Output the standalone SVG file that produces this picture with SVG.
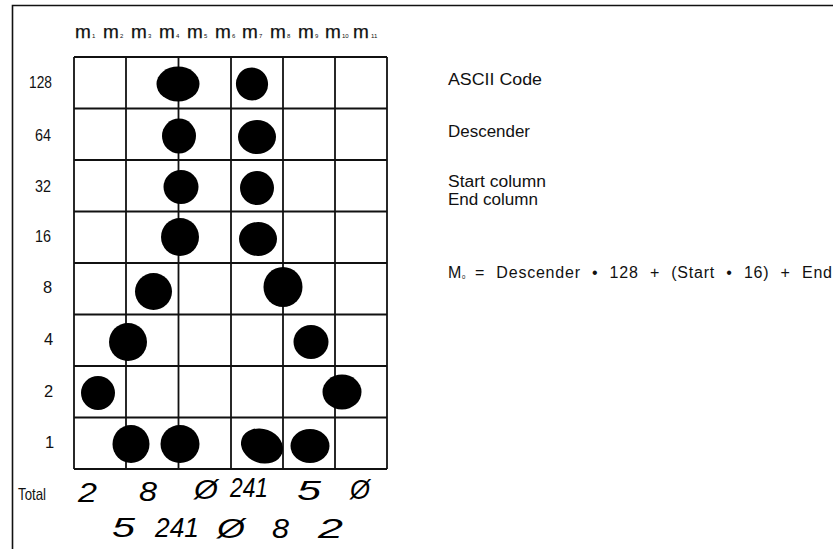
<svg xmlns="http://www.w3.org/2000/svg" width="833" height="549" viewBox="0 0 833 549">
<style>
.frame{fill:none;stroke:#111;stroke-width:1.6}
.grid line{stroke:#111;stroke-width:1.8}
.dot{fill:#000}
.hdr{font-family:"Liberation Sans",Arial,sans-serif;font-size:19px;fill:#111;stroke:#111;stroke-width:0.25}
.sub{font-family:"Liberation Sans",Arial,sans-serif;font-size:6px;fill:#111}
.lbl{font-family:"Liberation Sans",Arial,sans-serif;font-size:16.5px;fill:#111}
.leg{font-family:"Liberation Sans",Arial,sans-serif;font-size:16px;fill:#111}
.hand{font-family:"Liberation Sans",Arial,sans-serif;font-style:italic;font-size:28px;fill:#000}
</style>
<rect width="833" height="549" fill="#fff"/>
<g id="frame"><path class="frame" d="M833,5.5 H12.5 V549"/></g>
<g id="header">
<text class="hdr" x="75" y="38">m</text><text class="sub" x="92" y="38">1</text>
<text class="hdr" x="103" y="38">m</text><text class="sub" x="120" y="38">2</text>
<text class="hdr" x="131" y="38">m</text><text class="sub" x="148" y="38">3</text>
<text class="hdr" x="159" y="38">m</text><text class="sub" x="176" y="38">4</text>
<text class="hdr" x="187" y="38">m</text><text class="sub" x="204" y="38">5</text>
<text class="hdr" x="215" y="38">m</text><text class="sub" x="232" y="38">6</text>
<text class="hdr" x="242" y="38">m</text><text class="sub" x="259" y="38">7</text>
<text class="hdr" x="270" y="38">m</text><text class="sub" x="287" y="38">8</text>
<text class="hdr" x="298" y="38">m</text><text class="sub" x="315" y="38">9</text>
<text class="hdr" x="325" y="38">m</text><text class="sub" x="342" y="38">10</text>
<text class="hdr" x="353" y="38">m</text><text class="sub" x="371" y="38">11</text>
</g>
<g id="grid" class="grid">
<line x1="74" y1="57" x2="387" y2="57"/>
<line x1="74" y1="108.5" x2="387" y2="108.5"/>
<line x1="74" y1="160" x2="387" y2="160"/>
<line x1="74" y1="211.5" x2="387" y2="211.5"/>
<line x1="74" y1="263" x2="387" y2="263"/>
<line x1="74" y1="314.5" x2="387" y2="314.5"/>
<line x1="74" y1="366" x2="387" y2="366"/>
<line x1="74" y1="417.5" x2="387" y2="417.5"/>
<line x1="74" y1="469" x2="387" y2="469"/>
<line x1="74" y1="57" x2="74" y2="469"/>
<line x1="126" y1="57" x2="126" y2="469"/>
<line x1="178.5" y1="57" x2="178.5" y2="469"/>
<line x1="231" y1="57" x2="231" y2="469"/>
<line x1="283" y1="57" x2="283" y2="469"/>
<line x1="335" y1="57" x2="335" y2="469"/>
<line x1="387" y1="57" x2="387" y2="469"/>
</g>
<g id="dots">
<ellipse class="dot" cx="178" cy="84" rx="21.5" ry="17.5"/>
<ellipse class="dot" cx="252" cy="84" rx="16" ry="16.5" transform="rotate(-15 252 84)"/>
<ellipse class="dot" cx="179" cy="136" rx="17" ry="17.5"/>
<ellipse class="dot" cx="257" cy="137" rx="19" ry="17"/>
<ellipse class="dot" cx="181" cy="187" rx="17.5" ry="17"/>
<ellipse class="dot" cx="257" cy="188" rx="17" ry="17"/>
<ellipse class="dot" cx="180" cy="237" rx="19" ry="19"/>
<ellipse class="dot" cx="258" cy="239" rx="19" ry="17"/>
<ellipse class="dot" cx="153.5" cy="291.5" rx="18.5" ry="18.5"/>
<ellipse class="dot" cx="283" cy="287" rx="19.5" ry="20"/>
<ellipse class="dot" cx="128" cy="342" rx="19" ry="19"/>
<ellipse class="dot" cx="311" cy="342" rx="17.5" ry="17"/>
<ellipse class="dot" cx="98" cy="393" rx="17" ry="17"/>
<ellipse class="dot" cx="342" cy="392" rx="19.5" ry="17.5"/>
<ellipse class="dot" cx="131" cy="444" rx="18.5" ry="19"/>
<ellipse class="dot" cx="180" cy="444" rx="19.5" ry="19"/>
<ellipse class="dot" cx="262" cy="446" rx="21.5" ry="17" transform="rotate(20 262 446)"/>
<ellipse class="dot" cx="310" cy="446" rx="19.5" ry="17"/>
</g>
<g id="row-labels">
<text class="lbl" x="29" y="88" textLength="23" lengthAdjust="spacingAndGlyphs">128</text>
<text class="lbl" x="35" y="141" textLength="16" lengthAdjust="spacingAndGlyphs">64</text>
<text class="lbl" x="35" y="192" textLength="16" lengthAdjust="spacingAndGlyphs">32</text>
<text class="lbl" x="35" y="242" textLength="16" lengthAdjust="spacingAndGlyphs">16</text>
<text class="lbl" x="43" y="293">8</text>
<text class="lbl" x="44" y="345">4</text>
<text class="lbl" x="44" y="397">2</text>
<text class="lbl" x="45" y="448">1</text>
<text class="lbl" x="18" y="500" textLength="28" lengthAdjust="spacingAndGlyphs">Total</text>
</g>
<g id="totals">
<text class="hand" x="78" y="502" textLength="19" lengthAdjust="spacingAndGlyphs">2</text>
<text class="hand" x="139" y="501" textLength="18" lengthAdjust="spacingAndGlyphs">8</text>
<text class="hand" x="194" y="499" textLength="24" lengthAdjust="spacingAndGlyphs">Ø</text>
<text class="hand" x="230" y="497" textLength="38" lengthAdjust="spacingAndGlyphs">241</text>
<text class="hand" x="297" y="500" textLength="24" lengthAdjust="spacingAndGlyphs">5</text>
<text class="hand" x="350" y="499" textLength="20" lengthAdjust="spacingAndGlyphs">Ø</text>
<text class="hand" x="112" y="537" textLength="23" lengthAdjust="spacingAndGlyphs">5</text>
<text class="hand" x="155" y="537" textLength="44" lengthAdjust="spacingAndGlyphs">241</text>
<text class="hand" x="217" y="538" textLength="28" lengthAdjust="spacingAndGlyphs">Ø</text>
<text class="hand" x="272" y="538" textLength="17" lengthAdjust="spacingAndGlyphs">8</text>
<text class="hand" x="318" y="538" textLength="25" lengthAdjust="spacingAndGlyphs">2</text>
</g>
<g id="legend">
<text class="leg" x="448" y="85" textLength="94" lengthAdjust="spacingAndGlyphs">ASCII Code</text>
<text class="leg" x="448" y="137" textLength="82" lengthAdjust="spacingAndGlyphs">Descender</text>
<text class="leg" x="448" y="187" textLength="98" lengthAdjust="spacingAndGlyphs">Start column</text>
<text class="leg" x="448" y="205" textLength="90" lengthAdjust="spacingAndGlyphs">End column</text>
<text class="leg" x="448" y="278">M</text><text class="sub" x="462" y="279">0</text>
<text class="leg" x="475" y="278" textLength="357" lengthAdjust="spacing" style="word-spacing:6px">= Descender • 128 + (Start • 16) + End</text>
</g>
</svg>
